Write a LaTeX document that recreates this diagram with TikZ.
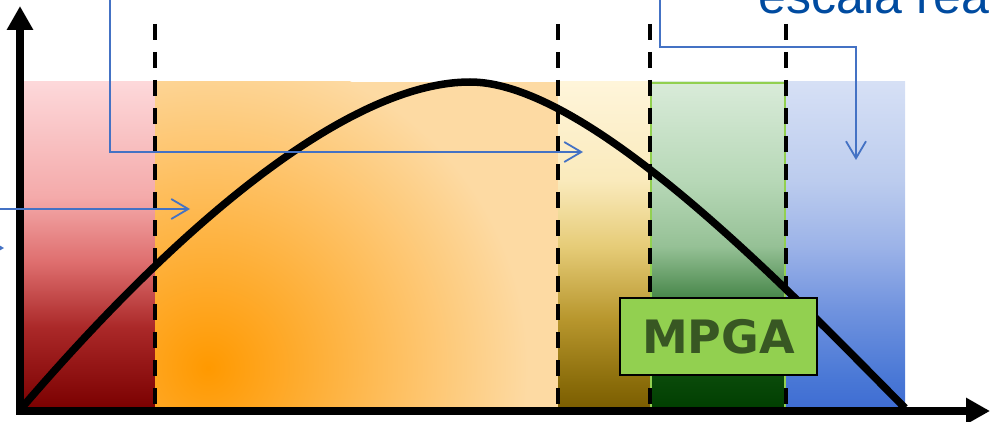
\documentclass[tikz,border=0pt]{standalone}
\usepackage{fontspec}
\newfontfamily\notefont{Liberation Sans}
\newfontfamily\boxfont{DejaVu Sans}
\usetikzlibrary{arrows.meta}

\definecolor{flowblue}{RGB}{68,114,196}
\definecolor{noteblue}{RGB}{0,75,160}
\definecolor{mpgagreen}{RGB}{146,208,80}
\definecolor{mpgatext}{RGB}{56,87,35}
\definecolor{orangein}{RGB}{255,153,0}
\definecolor{orangeout}{RGB}{253,218,163}

% band shadings (25bp = bottom, 75bp = top)
\pgfdeclareverticalshading{redband}{100bp}{rgb(0bp)=(0.478,0,0); rgb(25bp)=(0.478,0,0);
  rgb(37.5bp)=(0.667,0.157,0.157); rgb(47.5bp)=(0.871,0.431,0.431);
  rgb(57.5bp)=(0.957,0.667,0.667); rgb(75bp)=(0.992,0.847,0.855); rgb(100bp)=(0.992,0.847,0.855)}
\pgfdeclareverticalshading{oliveband}{100bp}{rgb(0bp)=(0.478,0.361,0); rgb(25bp)=(0.478,0.361,0);
  rgb(29bp)=(0.541,0.424,0.039); rgb(39bp)=(0.722,0.592,0.180); rgb(50bp)=(0.902,0.8,0.471);
  rgb(60bp)=(0.980,0.918,0.737); rgb(75bp)=(1,0.961,0.855); rgb(100bp)=(1,0.961,0.855)}
\pgfdeclareverticalshading{greenband}{100bp}{rgb(0bp)=(0,0.243,0); rgb(25bp)=(0,0.243,0);
  rgb(30bp)=(0.039,0.290,0.039); rgb(42.5bp)=(0.298,0.541,0.306); rgb(50bp)=(0.588,0.757,0.588);
  rgb(60bp)=(0.718,0.847,0.718); rgb(75bp)=(0.851,0.922,0.851); rgb(100bp)=(0.851,0.922,0.851)}
\pgfdeclareverticalshading{blueband}{100bp}{rgb(0bp)=(0.243,0.424,0.824); rgb(25bp)=(0.243,0.424,0.824);
  rgb(30bp)=(0.290,0.471,0.839); rgb(40bp)=(0.435,0.573,0.871); rgb(50bp)=(0.612,0.702,0.910);
  rgb(60bp)=(0.737,0.8,0.933); rgb(75bp)=(0.839,0.878,0.961); rgb(100bp)=(0.839,0.878,0.961)}

\begin{document}
\begin{tikzpicture}[x=1pt,y=-1pt,
  axisline/.style={line width=7.5pt,line cap=rect,-{Triangle[length=24pt,width=25pt]}},
  cutline/.style={line width=4pt,dash pattern=on 16pt off 12pt},
  curveline/.style={line width=7.5pt},
  flowline/.style={draw=flowblue,line width=1.8pt,-{Straight Barb[length=17pt,width=20pt]}},
  labelbox/.style={draw=black,line width=1.5pt,fill=mpgagreen,minimum width=197pt,
    minimum height=77pt,inner sep=0pt,text=mpgatext,
    font=\boxfont\bfseries\fontsize{46}{50}\selectfont}]

\useasboundingbox (0,0) rectangle (990,422);
\clip (0,0) rectangle (990,422);

% Bands
\shade[shading=redband] (23,82) rectangle (155,410);
\begin{scope}
  \clip (155,82) rectangle (558,410);
  \fill[orangeout] (155,82) rectangle (558,410);
  \shade[inner color=orangein,outer color=orangeout] (208,368) circle (320pt);
\end{scope}
\shade[shading=oliveband] (558,82) rectangle (650,410);
\shade[shading=greenband] (650,82) rectangle (786,410);
\shade[shading=blueband] (786,82) rectangle (905,410);
\draw[mpgagreen,line width=2.5pt] (651,410) -- (651,83) -- (785,83) -- (785,410);

% Cut lines
\foreach \cx in {155,558,650,786}
  \draw[cutline] (\cx,24) -- (\cx,410);

% Curve
\coordinate (start) at (20,410);
\coordinate (peak) at (470,82);
\coordinate (finish) at (905,408);
\draw[curveline] (start) .. controls (200,200) and (360,82) .. (peak)
  .. controls (590,82) and (790,292) .. (finish);

% Axes
\coordinate (origin) at (20,411);
\coordinate (ytop) at (20,6);
\coordinate (xend) at (990,411);
\draw[axisline] (origin) -- (ytop);
\draw[axisline] (origin) -- (xend);

% Blue connectors
\coordinate (srcA) at (110,-5);
\coordinate (tipA) at (583,152);
\coordinate (srcB) at (-5,209);
\coordinate (tipB) at (190,209);
\coordinate (srcC) at (660,-5);
\coordinate (bendC) at (856,47);
\coordinate (tipC) at (856,160);
\coordinate (srcD) at (-30,248);
\coordinate (tipD) at (4,248);
\draw[flowline] (srcA) |- (tipA);
\draw[flowline] (srcB) -- (tipB);
\draw[flowline] (srcC) |- (bendC) -- (tipC);
\draw[flowline] (srcD) -- (tipD);

% Labels
\node[labelbox] (mpga) at (718.5,336.5) {MPGA};
\node[anchor=base west,inner sep=0pt,text=noteblue,
  font=\notefont\fontsize{50}{60}\selectfont] (scalenote) at (758,14) {escala rea};

\end{tikzpicture}
\end{document}
